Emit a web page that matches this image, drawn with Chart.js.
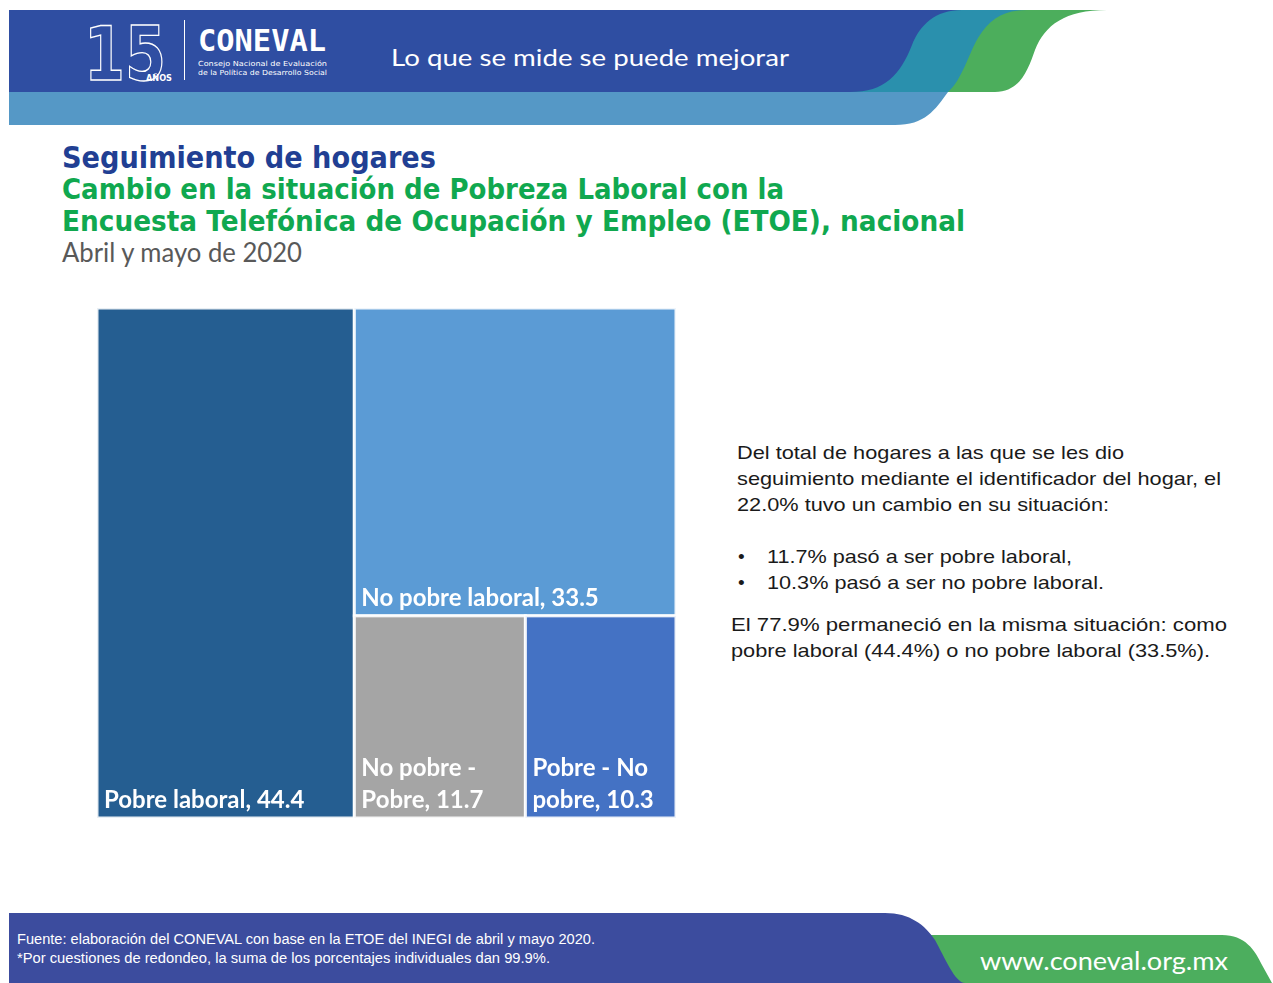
<!DOCTYPE html>
<html lang="es">
<head>
<meta charset="utf-8">
<title>Seguimiento de hogares - CONEVAL</title>
<script src="https://cdn.jsdelivr.net/npm/chart.js@4/dist/chart.umd.min.js"></script>
<style>
  html, body { margin: 0; padding: 0; background: #fff; }
  body { width: 1273px; height: 983px; position: relative; overflow: hidden; }
  #page { position: absolute; left: 0; top: 0; }
  #treemap { position: absolute; left: 97px; top: 308px; }
</style>
</head>
<body>
<svg id="page" width="1273" height="983" viewBox="0 0 1273 983">
  <!-- encabezado -->
  <path d="M 900 92 L 995 92 C 1020 92 1028 70 1035 50 C 1045 25 1065 10 1107 10 L 960 10 Z" fill="#4cae5c"/>
  <path d="M 850 92 L 948 92 C 962 80 968 55 978 38 C 990 18 1005 10 1027 10 L 930 10 Z" fill="#2a90ad"/>
  <path d="M 9 10 L 962 10 C 935 10 920 25 912 45 C 900 75 885 92 850 92 L 9 92 Z" fill="#2f4ea2"/>
  <path d="M 9 92 L 948 92 C 935 110 925 125 895 125 L 9 125 Z" fill="#5598c6"/>
  <text x="84" y="80" font-family="DejaVu Sans" font-weight="bold" font-size="74" fill="none" stroke="#fff" stroke-width="1.4" textLength="82" lengthAdjust="spacingAndGlyphs">15</text>
  <text x="146" y="81" font-family="DejaVu Sans" font-weight="bold" font-size="9" fill="#fff" textLength="26" lengthAdjust="spacingAndGlyphs">AÑOS</text>
  <line x1="184.5" y1="20" x2="184.5" y2="80" stroke="#fff" stroke-width="1"/>
  <text x="198" y="51" font-family="DejaVu Sans Mono" font-weight="bold" font-size="30" fill="#fff" textLength="128" lengthAdjust="spacingAndGlyphs">CONEVAL</text>
  <text x="198" y="66" font-family="DejaVu Sans" font-size="7" fill="#fff" textLength="129" lengthAdjust="spacingAndGlyphs">Consejo Nacional de Evaluación</text>
  <text x="198" y="75" font-family="DejaVu Sans" font-size="7" fill="#fff" textLength="129" lengthAdjust="spacingAndGlyphs">de la Política de Desarrollo Social</text>
  <text x="391" y="66" font-family="Lato" font-size="24" fill="#fff" textLength="398" lengthAdjust="spacingAndGlyphs">Lo que se mide se puede mejorar</text>

  <!-- títulos -->
  <text x="62" y="168" font-family="DejaVu Sans" font-weight="bold" font-size="30" fill="#213f93" textLength="374" lengthAdjust="spacingAndGlyphs">Seguimiento de hogares</text>
  <text x="62" y="199" font-family="DejaVu Sans" font-weight="bold" font-size="28" fill="#10a84f" textLength="722" lengthAdjust="spacingAndGlyphs">Cambio en la situación de Pobreza Laboral con la</text>
  <text x="62" y="231" font-family="DejaVu Sans" font-weight="bold" font-size="28" fill="#10a84f" textLength="903" lengthAdjust="spacingAndGlyphs">Encuesta Telefónica de Ocupación y Empleo (ETOE), nacional</text>
  <text x="62" y="262" font-family="Lato" font-size="27" fill="#595959" textLength="240" lengthAdjust="spacingAndGlyphs">Abril y mayo de 2020</text>

  <!-- texto lateral -->
  <g font-family="Liberation Sans, Arial" font-size="19" fill="#1a1a1a">
    <text x="737" y="459" textLength="387" lengthAdjust="spacingAndGlyphs">Del total de hogares a las que se les dio</text>
    <text x="737" y="485" textLength="484" lengthAdjust="spacingAndGlyphs">seguimiento mediante el identificador del hogar, el</text>
    <text x="737" y="511" textLength="372" lengthAdjust="spacingAndGlyphs">22.0% tuvo un cambio en su situación:</text>
    <text x="738" y="563">•</text>
    <text x="767" y="563" textLength="305" lengthAdjust="spacingAndGlyphs">11.7% pasó a ser pobre laboral,</text>
    <text x="738" y="589">•</text>
    <text x="767" y="589" textLength="337" lengthAdjust="spacingAndGlyphs">10.3% pasó a ser no pobre laboral.</text>
    <text x="731" y="631" textLength="496" lengthAdjust="spacingAndGlyphs">El 77.9% permaneció en la misma situación: como</text>
    <text x="731" y="657" textLength="479" lengthAdjust="spacingAndGlyphs">pobre laboral (44.4%) o no pobre laboral (33.5%).</text>
  </g>

  <!-- pie -->
  <path d="M 930 935 L 1222 935 C 1245 935 1255 950 1262 965 L 1272 983 L 930 983 Z" fill="#4cae5e"/>
  <path d="M 9 913 L 885 913 C 910 913 925 925 935 940 C 945 958 955 983 965 983 L 9 983 Z" fill="#3c4c9e"/>
  <text x="17" y="944" font-family="Liberation Sans Narrow, Liberation Sans" font-size="14" fill="#fff" textLength="578" lengthAdjust="spacingAndGlyphs">Fuente: elaboración del CONEVAL con base en la ETOE del INEGI de abril y mayo 2020.</text>
  <text x="17" y="963" font-family="Liberation Sans Narrow, Liberation Sans" font-size="14" fill="#fff" textLength="533" lengthAdjust="spacingAndGlyphs">*Por cuestiones de redondeo, la suma de los porcentajes individuales dan 99.9%.</text>
  <text x="980" y="970" font-family="Lato" font-size="25" fill="#fff" textLength="248" lengthAdjust="spacingAndGlyphs">www.coneval.org.mx</text>
</svg>
<canvas id="treemap" width="579" height="510"></canvas>

<script>
// datos del treemap (% de hogares)
const categories = ['Pobre laboral', 'No pobre laboral', 'No pobre - Pobre', 'Pobre - No pobre'];
const values = [44.4, 33.5, 11.7, 10.3];
const colors = ['#255e91', '#5b9bd5', '#a5a5a5', '#4472c4'];

function sum(arr) {
  return arr.reduce((a, b) => a + b, 0);
}

// squarified treemap: devuelve celdas en unidades (ancho = aspect, alto = 1)
function layoutRow(row, rect, out) {
  const s = sum(row);
  if (rect.w >= rect.h) {
    const cw = s / rect.h;
    let yy = rect.y;
    row.forEach(a => { out.push({ x: rect.x, y: yy, w: cw, h: a / cw }); yy += a / cw; });
    return { x: rect.x + cw, y: rect.y, w: rect.w - cw, h: rect.h };
  }
  const rh = s / rect.w;
  let xx = rect.x;
  row.forEach(a => { out.push({ x: xx, y: rect.y, w: a / rh, h: rh }); xx += a / rh; });
  return { x: rect.x, y: rect.y + rh, w: rect.w, h: rect.h - rh };
}

function worst(row, side) {
  const s = sum(row);
  const mx = Math.max(...row), mn = Math.min(...row);
  return Math.max(side * side * mx / (s * s), (s * s) / (side * side * mn));
}

function squarify(vals, w, h) {
  const k = (w * h) / sum(vals);
  const areas = vals.map(v => v * k);
  const out = [];
  let rect = { x: 0, y: 0, w, h };
  let row = [];
  let i = 0;
  while (i < areas.length) {
    const side = Math.min(rect.w, rect.h);
    if (row.length === 0 || worst(row.concat(areas[i]), side) <= worst(row, side)) {
      row.push(areas[i]);
      i++;
    } else {
      rect = layoutRow(row, rect, out);
      row = [];
    }
  }
  if (row.length) layoutRow(row, rect, out);
  return out;
}

function wrapText(ctx, text, maxWidth) {
  const words = text.split(' ');
  const lines = [];
  let line = '';
  words.forEach(word => {
    const test = line ? line + ' ' + word : word;
    if (ctx.measureText(test).width > maxWidth && line) {
      lines.push(line);
      line = word;
    } else {
      line = test;
    }
  });
  if (line) lines.push(line);
  return lines;
}

const treemapPlugin = {
  id: 'treemap',
  afterDatasetsDraw(chart) {
    const { ctx, chartArea, scales: { x, y } } = chart;
    const aspect = chartArea.width / chartArea.height;
    const cells = squarify(values, aspect, 1);
    ctx.save();
    cells.forEach((c, i) => {
      const left = x.getPixelForValue(c.x / aspect);
      const right = x.getPixelForValue((c.x + c.w) / aspect);
      const top = y.getPixelForValue(c.y);
      const bottom = y.getPixelForValue(c.y + c.h);
      ctx.fillStyle = colors[i];
      ctx.fillRect(left, top, right - left, bottom - top);
      ctx.strokeStyle = 'rgba(255,255,255,0.9)';
      ctx.lineWidth = 3;
      ctx.strokeRect(left, top, right - left, bottom - top);

      ctx.font = 'bold 24px Lato, "Open Sans", sans-serif';
      ctx.fillStyle = '#fff';
      ctx.textBaseline = 'alphabetic';
      ctx.textAlign = 'left';
      const label = `${categories[i]}, ${values[i].toFixed(1)}`;
      const lines = wrapText(ctx, label, right - left - 12);
      lines.forEach((ln, j) => {
        const yy = bottom - 10 - (lines.length - 1 - j) * 32;
        ctx.fillText(ln, left + 7, yy);
      });
    });
    ctx.restore();
  }
};

new Chart(document.getElementById('treemap'), {
  type: 'scatter',
  data: { datasets: [{ label: 'Hogares', data: [] }] },
  options: {
    responsive: false,
    animation: false,
    layout: { padding: 0 },
    scales: {
      x: { type: 'linear', min: 0, max: 1, display: false },
      y: { type: 'linear', min: 0, max: 1, reverse: true, display: false }
    },
    plugins: {
      legend: { display: false },
      tooltip: { enabled: false }
    }
  },
  plugins: [treemapPlugin]
});
</script>
</body>
</html>
